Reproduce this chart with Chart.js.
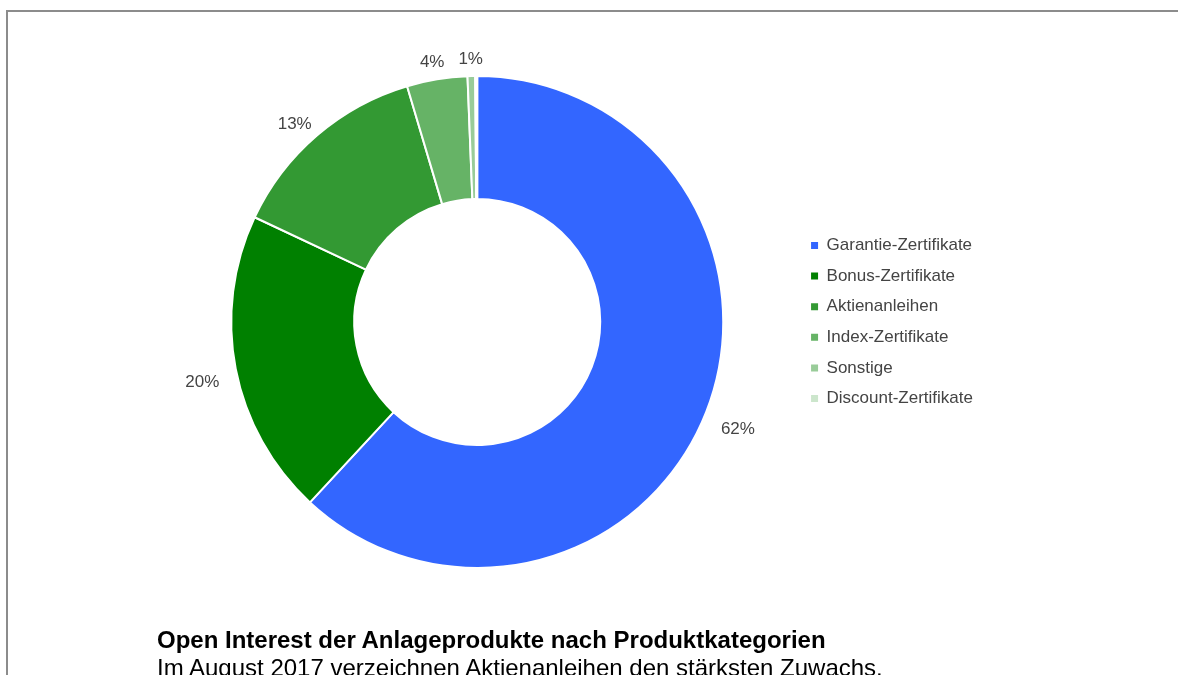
<!DOCTYPE html>
<html lang="de">
<head>
<meta charset="utf-8">
<script src="https://cdn.jsdelivr.net/npm/chart.js@4.4.1/dist/chart.umd.min.js"></script>
<style>
  html, body { margin: 0; padding: 0; background: #fff; width: 1178px; height: 675px; overflow: hidden; }
  #frame { position: absolute; left: 6px; top: 10px; width: 1300px; height: 800px;
           border-top: 2px solid #8c8c8c; border-left: 2px solid #8c8c8c; box-sizing: border-box; }
  #wrap { position: absolute; left: 0; top: 0; width: 1178px; height: 644px; }
  .cap { position: absolute; left: 157px; font-family: Arial, "Liberation Sans", sans-serif;
         color: #000; white-space: nowrap; line-height: 24px; font-size: 24px; }
  #title { top: 628px; font-weight: bold; }
  #subtitle { top: 656px; }
</style>
</head>
<body>
<div id="frame"></div>
<div id="wrap"><canvas id="c" width="1178" height="644"></canvas></div>
<div id="title" class="cap">Open Interest der Anlageprodukte nach Produktkategorien</div>
<div id="subtitle" class="cap">Im August 2017 verzeichnen Aktienanleihen den stärksten Zuwachs.</div>
<script>
const categories = ["Garantie-Zertifikate", "Bonus-Zertifikate", "Aktienanleihen", "Index-Zertifikate", "Sonstige", "Discount-Zertifikate"];
const shares = [61.9, 20.1, 13.4, 3.97, 0.5, 0.13];
const colors = ["#3366ff", "#008000", "#339933", "#66b366", "#99cc99", "#cce6cc"];

const FONT = 'Arial, "Liberation Sans", sans-serif';
const TEXT = '#444444';

const outsideLabels = {
  id: 'outsideLabels',
  afterDatasetsDraw(chart) {
    const ctx = chart.ctx;
    const meta = chart.getDatasetMeta(0);
    const data = chart.data.datasets[0].data;
    const total = data.reduce((a, b) => a + b, 0);
    ctx.save();
    ctx.font = '17px ' + FONT;
    ctx.fillStyle = TEXT;
    ctx.textAlign = 'center';
    ctx.textBaseline = 'middle';
    meta.data.forEach((arc, i) => {
      const pct = data[i] / total * 100;
      if (pct < 0.5) return;
      const txt = Math.round(pct) + '%';
      const mid = (arc.startAngle + arc.endAngle) / 2;
      const cx = Math.cos(mid), cy = Math.sin(mid);
      const w = ctx.measureText(txt).width, h = 17;
      const R = arc.outerRadius + 17;
      const x = arc.x + R * cx + cx * w / 2;
      const y = arc.y + R * cy + cy * h / 2 + h / 2;
      ctx.fillText(txt, x, y);
    });
    ctx.restore();
  }
};

new Chart(document.getElementById('c'), {
  type: 'doughnut',
  data: {
    labels: categories,
    datasets: [{
      data: shares,
      backgroundColor: colors,
      borderColor: '#ffffff',
      borderWidth: 2,
      hoverOffset: 0
    }]
  },
  options: {
    responsive: false,
    animation: false,
    radius: 246,
    cutout: '50%',
    layout: { padding: { left: 157, right: 195, top: 0, bottom: 0 } },
    plugins: {
      tooltip: { enabled: false },
      legend: {
        position: 'right',
        align: 'center',
        labels: {
          boxWidth: 7,
          boxHeight: 7,
          padding: 13.6,
          color: TEXT,
          font: { family: FONT, size: 17 },
          generateLabels(chart) {
            return Chart.overrides.doughnut.plugins.legend.labels.generateLabels(chart)
              .map(it => Object.assign(it, { lineWidth: 0, strokeStyle: it.fillStyle }));
          }
        }
      }
    }
  },
  plugins: [outsideLabels]
});
</script>
</body>
</html>
